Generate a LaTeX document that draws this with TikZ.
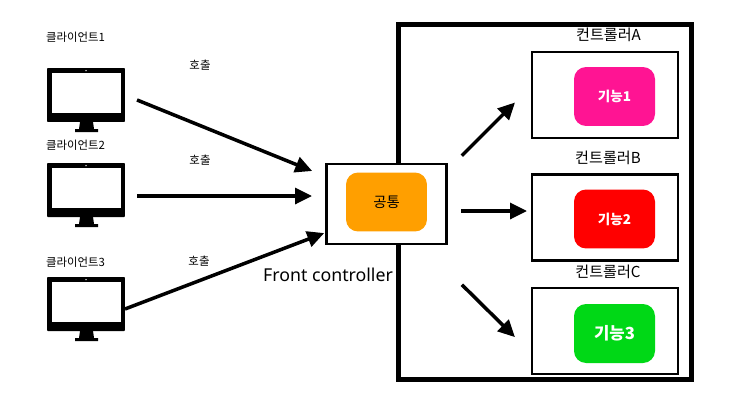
\documentclass[tikz,border=0pt]{standalone}
\usepackage{fontspec}
\usepackage{xcolor}
\usepackage{tikz}
\usetikzlibrary{positioning}
\usetikzlibrary{arrows.meta}
\setmainfont{Noto Sans CJK KR}
\newfontfamily\latinfont{Noto Sans}
\definecolor{deeppink2}{RGB}{255,20,147}
\definecolor{green2}{RGB}{0,216,22}
\definecolor{orange2}{RGB}{255,159,0}
\tikzset{
  box/.style={draw=black,shape=rectangle,inner sep=0pt,line width=1.4pt,minimum width=2.92cm,minimum height=1.72cm},
  func/.style={draw=none,shape=rectangle,rounded corners=0.24cm,inner sep=0pt,minimum width=1.62cm,minimum height=1.18cm,text=white,font=\bfseries\fontsize{7.7}{9}\selectfont},
  call/.style={line width=2pt,-{Triangle[length=9.6pt,width=9pt]}},
  label/.style={draw=none,inner sep=0pt,font=\fontsize{6.5}{8}\selectfont},
  title/.style={draw=none,inner sep=0pt,font=\fontsize{8.6}{10}\selectfont}
}
\begin{document}
\begin{tikzpicture}[x=0.02cm,y=-0.02cm]
   \useasboundingbox (0,0) rectangle (733,406);
   % clients
   \foreach \n/\y/\ly in {1/0/37.5,2/95/145.5,3/209/262.5} {
      \node[label] (client\n) at (75.5,\ly) {클라이언트\n};
      \node[draw=none,fill=black,rounded corners=0.5pt,inner sep=0pt,minimum width=1.56cm,minimum height=1.08cm] (mon\n) at (86,95+\y) {};
      \node[draw=none,fill=white,inner sep=0pt,minimum width=1.38cm,minimum height=0.8cm] (screen\n) at (86.5,93+\y) {};
      \node[draw=none,fill=white,circle,inner sep=0pt,minimum size=0.03cm] (cam\n) at (86,70.5+\y) {};
      \fill (80,122+\y) -- (93,122+\y) -- (94,129+\y) -- (98,129+\y) -- (98,132+\y) -- (75,132+\y) -- (75,129+\y) -- (79,129+\y) -- cycle;
   }
   \node[label] (call1) at (200,65.5) {호출};
   \node[label] (call2) at (200,160.5) {호출};
   \node[label] (call3) at (199,261.5) {호출};
   % controllers
   \node[box,line width=2.4pt,minimum width=5.86cm,minimum height=7.1cm] (outer) at (545,202) {};
   \node[title] (nameA) at (608.5,35) {컨트롤러A};
   \node[title] (nameB) at (608,158) {컨트롤러B};
   \node[title] (nameC) at (608,272) {컨트롤러C};
   \node[box] (ctrlA) at (605,95) {};
   \node[box] (ctrlB) at (605,217.5) {};
   \node[box] (ctrlC) at (605,331) {};
   \node[func,fill=deeppink2] (funcA) at (614.5,96.5) {기능1};
   \node[func,fill=red] (funcB) at (614.5,219) {기능2};
   \node[func,fill=green2,font=\bfseries\fontsize{9.5}{11}\selectfont] (funcC) at (614.5,333.5) {기능3};
   % front controller
   \node[box,fill=white,minimum width=2.4cm,minimum height=1.6cm] (front) at (386.5,204) {};
   \node[func,fill=orange2,text=black,font=\fontsize{8.2}{10}\selectfont] (common) at (386.5,202) {공통};
   \node[draw=none,inner sep=0pt,font=\latinfont\fontsize{10.1}{12}\selectfont] (frontname) at (328,275) {Front controller};
   % free ends of the arrows on the box borders
   \coordinate (inA) at (327,177);
   \coordinate (inB) at (327,196);
   \coordinate (inC) at (327,232);
   \coordinate (outA) at (532,85.5);
   \coordinate (outB) at (532,211);
   \coordinate (outC) at (532,354);
   \coordinate (fromA) at (447,170.5);
   \coordinate (fromB) at (447,211);
   \coordinate (fromC) at (447,270);
   \coordinate (mon1out) at (125,95.1);
   \coordinate (mon2out) at (125,196);
   \coordinate (mon3out) at (125,309);
   \draw[call,shorten <=0.26cm,shorten >=0.32cm] (mon1out) -- (inA);
   \draw[call,shorten <=0.24cm,shorten >=0.3cm] (mon2out) -- (inB);
   \draw[call,shorten >=0.06cm] (mon3out) -- (inC);
   \draw[call,shorten <=0.42cm,shorten >=0.48cm] (fromA) -- (outA);
   \draw[call,shorten <=0.28cm,shorten >=0.1cm] (fromB) -- (outB);
   \draw[call,shorten <=0.42cm,shorten >=0.48cm] (fromC) -- (outC);
\end{tikzpicture}
\end{document}
